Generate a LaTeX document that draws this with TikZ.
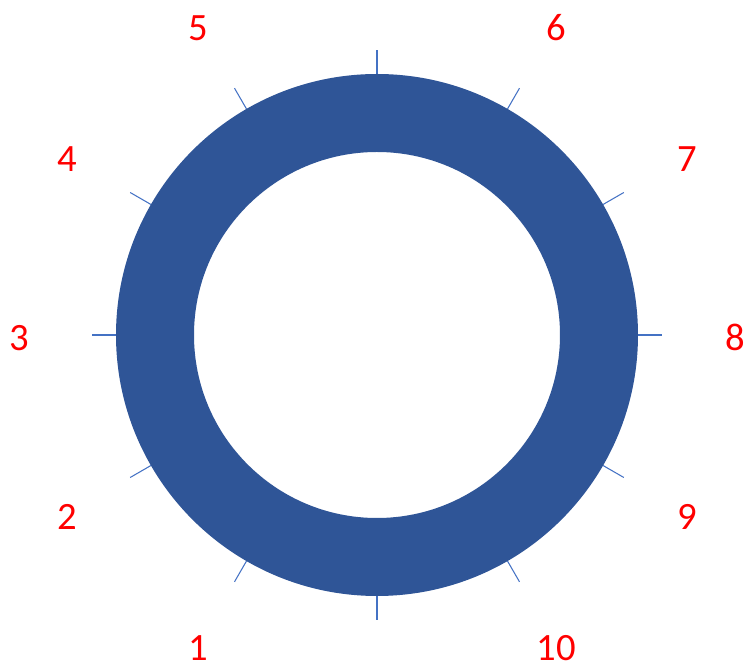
\documentclass[tikz,border=0pt]{standalone}
\usepackage{fontspec}
\setmainfont{Carlito}
\definecolor{ringblue}{HTML}{2F5597}
\definecolor{tickblue}{HTML}{4472C4}
\definecolor{labelred}{HTML}{FF0000}
\tikzset{
  every picture/.style={line join=round},
  tickmark/.style={tickblue, line width=0.75pt},
  dial label/.style={text=labelred, font=\fontsize{27.5}{30}\selectfont, inner sep=0pt, yshift=-0.07cm},
}
\begin{document}
\begin{tikzpicture}[x=0.025cm, y=0.025cm]
\useasboundingbox (-377,-328) rectangle (367,335);
% tick marks every 30 degrees
\foreach \a in {0,30,...,330}
  \draw[tickmark] (\a:255) -- (\a:285);
% the ring
\fill[ringblue, even odd rule] (0,0) circle (261) circle (183);
% numbers round the dial
\foreach \n/\a in {1/240, 2/210, 3/180, 4/150, 5/120, 6/60, 7/30, 8/0, 9/-30, 10/-60}
  \node[dial label] (num\n) at (\a:358) {\n};
\end{tikzpicture}
\end{document}
